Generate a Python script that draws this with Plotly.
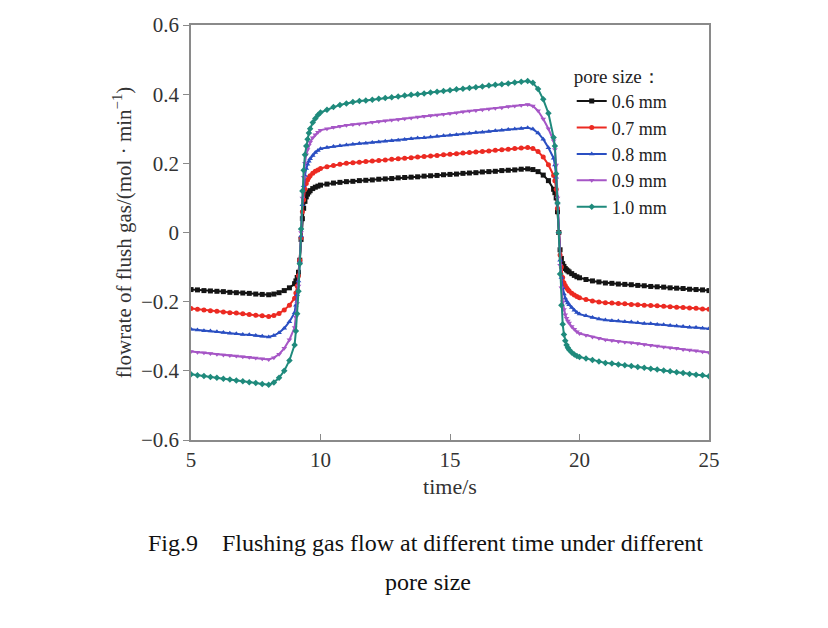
import plotly.graph_objects as go

# ---- data ----
time_s = [5.0, 5.25, 5.5, 5.75, 6.0, 6.25, 6.5, 6.75, 7.0, 7.25, 7.5, 7.75, 8.0,
          8.2, 8.4, 8.6, 8.8, 9.0,
          9.05, 9.1, 9.15, 9.2, 9.25, 9.3, 9.35, 9.4, 9.45, 9.5, 9.55, 9.6,
          9.7, 9.8, 9.9, 10.0,
          10.25, 10.5, 10.75, 11.0, 11.25, 11.5, 11.75, 12.0, 12.25, 12.5, 12.75, 13.0,
          13.25, 13.5, 13.75, 14.0, 14.25, 14.5, 14.75, 15.0, 15.25, 15.5, 15.75, 16.0,
          16.25, 16.5, 16.75, 17.0, 17.25, 17.5, 17.75, 18.0,
          18.2, 18.4, 18.6, 18.8, 19.0,
          19.05, 19.1, 19.15, 19.2, 19.25, 19.3, 19.35, 19.4, 19.45, 19.5, 19.55, 19.6,
          19.7, 19.8, 19.9, 20.0,
          20.25, 20.5, 20.75, 21.0, 21.25, 21.5, 21.75, 22.0, 22.25, 22.5, 22.75, 23.0,
          23.25, 23.5, 23.75, 24.0, 24.25, 24.5, 24.75, 25.0]

flow_06 = [-0.165, -0.166, -0.168, -0.169, -0.170, -0.171, -0.173, -0.174, -0.175, -0.176, -0.178, -0.179, -0.180,
           -0.178, -0.174, -0.168, -0.160, -0.148,
           -0.140, -0.130, -0.115, -0.080, -0.020, 0.040, 0.070, 0.090, 0.103, 0.111, 0.117, 0.121,
           0.127, 0.131, 0.134, 0.137,
           0.140, 0.143, 0.145, 0.147, 0.148, 0.150, 0.151, 0.152, 0.154, 0.155, 0.156, 0.158,
           0.159, 0.160, 0.161, 0.163, 0.164, 0.165, 0.167, 0.168, 0.169, 0.171, 0.172, 0.173,
           0.175, 0.176, 0.177, 0.179, 0.180, 0.181, 0.183, 0.184,
           0.182, 0.176, 0.166, 0.150, 0.125,
           0.115, 0.100, 0.060, 0.000, -0.050, -0.075, -0.090, -0.098, -0.104, -0.108, -0.111, -0.114,
           -0.119, -0.124, -0.128, -0.131,
           -0.136, -0.140, -0.143, -0.146, -0.147, -0.149, -0.150, -0.151, -0.153, -0.154, -0.156, -0.157,
           -0.158, -0.160, -0.161, -0.162, -0.164, -0.165, -0.166, -0.168]

flow_07 = [-0.220, -0.222, -0.224, -0.226, -0.228, -0.230, -0.232, -0.233, -0.235, -0.237, -0.239, -0.241, -0.243,
           -0.240, -0.234, -0.224, -0.210, -0.190,
           -0.175, -0.155, -0.125, -0.080, -0.015, 0.060, 0.095, 0.125, 0.142, 0.152, 0.159, 0.164,
           0.171, 0.177, 0.181, 0.185,
           0.190, 0.194, 0.197, 0.200, 0.202, 0.203, 0.205, 0.207, 0.208, 0.210, 0.212, 0.213,
           0.215, 0.216, 0.218, 0.220, 0.221, 0.223, 0.225, 0.226, 0.228, 0.230, 0.231, 0.233,
           0.234, 0.236, 0.238, 0.239, 0.241, 0.243, 0.244, 0.246,
           0.243, 0.234, 0.218, 0.196, 0.165,
           0.150, 0.125, 0.070, 0.000, -0.065, -0.100, -0.130, -0.145, -0.153, -0.160, -0.165, -0.169,
           -0.176, -0.181, -0.185, -0.189,
           -0.194, -0.198, -0.201, -0.203, -0.204, -0.205, -0.206, -0.208, -0.209, -0.210, -0.211, -0.212,
           -0.213, -0.215, -0.216, -0.217, -0.218, -0.219, -0.221, -0.222]

flow_08 = [-0.280, -0.282, -0.284, -0.285, -0.287, -0.289, -0.291, -0.293, -0.295, -0.296, -0.298, -0.300, -0.302,
           -0.298, -0.290, -0.277, -0.258, -0.232,
           -0.210, -0.180, -0.140, -0.085, -0.010, 0.080, 0.135, 0.165, 0.185, 0.197, 0.206, 0.213,
           0.223, 0.231, 0.237, 0.242,
           0.246, 0.249, 0.251, 0.253, 0.255, 0.257, 0.258, 0.260, 0.262, 0.264, 0.265, 0.267,
           0.269, 0.271, 0.273, 0.274, 0.276, 0.278, 0.280, 0.281, 0.283, 0.285, 0.287, 0.289,
           0.290, 0.292, 0.294, 0.296, 0.298, 0.299, 0.301, 0.303,
           0.299, 0.288, 0.270, 0.245, 0.215,
           0.195, 0.160, 0.085, 0.000, -0.080, -0.130, -0.160, -0.178, -0.190, -0.198, -0.204, -0.209,
           -0.217, -0.225, -0.231, -0.236,
           -0.241, -0.246, -0.250, -0.253, -0.255, -0.256, -0.258, -0.259, -0.261, -0.263, -0.264, -0.266,
           -0.267, -0.269, -0.270, -0.272, -0.274, -0.275, -0.277, -0.278]

flow_09 = [-0.344, -0.346, -0.348, -0.350, -0.352, -0.354, -0.356, -0.357, -0.359, -0.361, -0.363, -0.365, -0.367,
           -0.362, -0.352, -0.335, -0.310, -0.275,
           -0.245, -0.205, -0.155, -0.090, 0.000, 0.100, 0.160, 0.200, 0.225, 0.240, 0.252, 0.261,
           0.274, 0.283, 0.290, 0.296,
           0.300, 0.304, 0.307, 0.310, 0.312, 0.314, 0.316, 0.319, 0.321, 0.323, 0.325, 0.327,
           0.329, 0.331, 0.334, 0.336, 0.338, 0.340, 0.342, 0.344, 0.346, 0.349, 0.351, 0.353,
           0.355, 0.357, 0.359, 0.361, 0.364, 0.366, 0.368, 0.370,
           0.366, 0.352, 0.328, 0.300, 0.265,
           0.240, 0.195, 0.100, 0.000, -0.095, -0.160, -0.200, -0.223, -0.238, -0.248, -0.256, -0.262,
           -0.272, -0.280, -0.287, -0.292,
           -0.297, -0.302, -0.306, -0.310, -0.312, -0.315, -0.317, -0.319, -0.321, -0.324, -0.326, -0.328,
           -0.331, -0.333, -0.335, -0.338, -0.340, -0.342, -0.345, -0.347]

flow_10 = [-0.410, -0.413, -0.415, -0.418, -0.420, -0.423, -0.425, -0.428, -0.430, -0.433, -0.435, -0.438, -0.440,
           -0.434, -0.420, -0.400, -0.370, -0.325,
           -0.285, -0.235, -0.170, -0.090, 0.010, 0.120, 0.180, 0.225, 0.250, 0.270, 0.288, 0.300,
           0.318, 0.330, 0.340, 0.347,
           0.355, 0.363, 0.369, 0.373, 0.377, 0.380, 0.382, 0.384, 0.387, 0.389, 0.391, 0.393,
           0.396, 0.398, 0.400, 0.402, 0.405, 0.407, 0.409, 0.411, 0.414, 0.416, 0.418, 0.420,
           0.422, 0.425, 0.427, 0.429, 0.431, 0.434, 0.436, 0.438,
           0.433, 0.415, 0.385, 0.345, 0.275,
           0.250, 0.170, 0.085, 0.000, -0.120, -0.210, -0.265, -0.295, -0.313, -0.325, -0.333, -0.339,
           -0.347, -0.353, -0.357, -0.360,
           -0.364, -0.369, -0.373, -0.377, -0.379, -0.382, -0.384, -0.386, -0.389, -0.391, -0.394, -0.396,
           -0.399, -0.401, -0.404, -0.406, -0.409, -0.411, -0.413, -0.416]

series_names = ["0.6 mm", "0.7 mm", "0.8 mm", "0.9 mm", "1.0 mm"]
series_values = [flow_06, flow_07, flow_08, flow_09, flow_10]
series_colors = ["#141414", "#ec2a22", "#2a4fc2", "#a656c6", "#1f8a7c"]
series_symbols = ["square", "circle", "triangle-up", "triangle-down", "diamond"]

x_ticks = [5, 10, 15, 20, 25]
y_ticks = [-0.6, -0.4, -0.2, 0, 0.2, 0.4, 0.6]
y_tick_text = ["\u22120.6", "\u22120.4", "\u22120.2", "0", "0.2", "0.4", "0.6"]

SERIF = "Liberation Serif, Times New Roman, serif"
AXIS_COLOR = "#8a8a8a"

fig = go.Figure()
for name, vals, col, sym in zip(series_names, series_values, series_colors, series_symbols):
    fig.add_trace(go.Scatter(
        x=time_s, y=vals, name=name, mode="lines+markers",
        line=dict(color=col, width=2),
        marker=dict(symbol=sym, size=5, color=col, line=dict(width=0)),
    ))

fig.update_layout(
    width=828, height=628,
    margin=dict(l=191, r=119, t=25, b=188),
    paper_bgcolor="white", plot_bgcolor="white",
    font=dict(family=SERIF, color="#333333", size=18),
    showlegend=True,
    legend=dict(
        title=dict(text="pore size\uff1a", font=dict(family=SERIF, size=19, color="#222222")),
        x=0.735, y=0.92, xanchor="left", yanchor="top",
        bgcolor="rgba(0,0,0,0)", borderwidth=0,
        font=dict(family=SERIF, size=18, color="#222222"),
        itemwidth=30, tracegroupgap=0,
    ),
    xaxis=dict(
        range=[5, 25], tickmode="array", tickvals=x_ticks,
        ticks="inside", ticklen=6, tickcolor=AXIS_COLOR, tickwidth=1.2,
        showline=True, linecolor=AXIS_COLOR, linewidth=1.6, mirror=True,
        showgrid=False, zeroline=False,
        tickfont=dict(family=SERIF, size=21, color="#333333"),
        title=dict(text="time/s", font=dict(family=SERIF, size=22, color="#333333"), standoff=8),
    ),
    yaxis=dict(
        range=[-0.6, 0.6], tickmode="array", tickvals=y_ticks, ticktext=y_tick_text,
        ticks="outside", ticklen=6, tickcolor=AXIS_COLOR, tickwidth=1.2,
        showline=True, linecolor=AXIS_COLOR, linewidth=1.6, mirror=True,
        showgrid=False, zeroline=False,
        tickfont=dict(family=SERIF, size=21, color="#333333"),
        title=dict(text="flowrate of flush gas/(mol \u00b7 min<sup>\u22121</sup>)",
                   font=dict(family=SERIF, size=21, color="#333333"), standoff=4),
    ),
)

fig.add_annotation(
    text="Fig.9\u00a0\u00a0\u00a0\u00a0Flushing gas flow at different time under different",
    xref="paper", yref="paper", x=0.452, y=-0.248, xanchor="center", yanchor="middle",
    showarrow=False, font=dict(family=SERIF, size=24, color="#111111"),
)
fig.add_annotation(
    text="pore size",
    xref="paper", yref="paper", x=0.458, y=-0.342, xanchor="center", yanchor="middle",
    showarrow=False, font=dict(family=SERIF, size=24, color="#111111"),
)

fig.write_html("out.html")
